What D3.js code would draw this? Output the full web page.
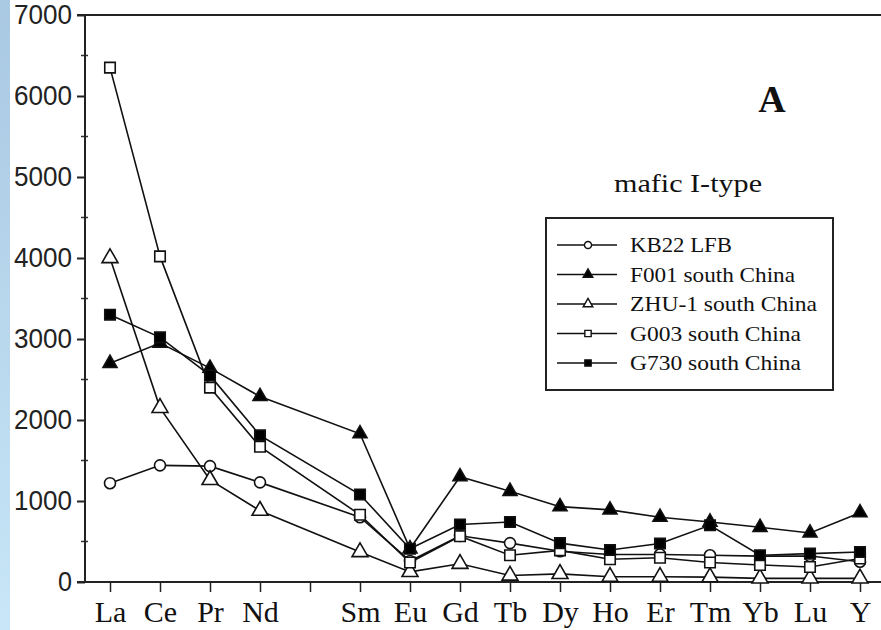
<!DOCTYPE html>
<html>
<head>
<meta charset="utf-8">
<script src="https://cdn.jsdelivr.net/npm/d3@7"></script>
<style>
  body { margin: 0; background: #fff; }
  svg { display: block; }
</style>
</head>
<body>
<script>
// element order on the x axis (Pm has a tick but no label / data)
var elements = ["La", "Ce", "Pr", "Nd", "Pm", "Sm", "Eu", "Gd", "Tb", "Dy", "Ho", "Er", "Tm", "Yb", "Lu", "Y"]
var elementLabels = ["La", "Ce", "Pr", "Nd", "", "Sm", "Eu", "Gd", "Tb", "Dy", "Ho", "Er", "Tm", "Yb", "Lu", "Y"]

var seriesNames = ["KB22 LFB", "F001 south China", "ZHU-1 south China", "G003 south China", "G730 south China"]

var kb22  = [1220, 1440, 1430, 1230, null, 800, 260, 570, 480, 380, 340, 340, 330, 320, 320, 250]
var f001  = [2700, 2950, 2640, 2290, null, 1830, 410, 1300, 1120, 930, 890, 800, 740, 675, 605, 855]
var zhu1  = [4000, 2150, 1260, 880, null, 370, 125, 225, 80, 100, 65, 65, 60, 45, 45, 45]
var g003  = [6350, 4020, 2400, 1670, null, 830, 240, 565, 330, 390, 280, 300, 240, 210, 185, 290]
var g730  = [3300, 3020, 2550, 1810, null, 1080, 410, 710, 740, 480, 395, 475, 700, 330, 350, 370]

var yTicks = [0, 1000, 2000, 3000, 4000, 5000, 6000, 7000]
var yMinorTicks = [500, 1500, 2500, 3500, 4500, 5500, 6500]

var w = 881
var h = 630

var svg = d3.select("body")
            .append("svg")
            .attr("width", w)
            .attr("height", h)

// light blue strip on the left edge
var grad = svg.append("defs").append("linearGradient")
    .attr("id", "strip").attr("x1", 0).attr("y1", 0).attr("x2", 0).attr("y2", 1)
grad.append("stop").attr("offset", "0%").attr("stop-color", "#a9c8e2")
grad.append("stop").attr("offset", "100%").attr("stop-color", "#c8e6f7")
svg.append("rect").attr("x", 0).attr("y", 0).attr("width", 10).attr("height", h)
   .attr("fill", "url(#strip)")

var xScale = d3.scaleLinear().domain([-0.5, 15.5]).range([85, 885])
var yScale = d3.scaleLinear().domain([0, 7000]).range([582, 15])

// y axis
var yAxis = d3.axisLeft(yScale).tickValues(yTicks).tickFormat(d3.format("d"))
    .tickSize(8).tickSizeOuter(0).tickPadding(5)
var gy = svg.append("g").attr("transform", "translate(85,0)").call(yAxis)
gy.select(".domain").remove()
gy.selectAll("line").attr("stroke", "#222").attr("stroke-width", 2)
gy.selectAll("text")
  .style("font-family", "'Liberation Sans', Arial, sans-serif")
  .style("font-size", "28px")
  .attr("fill", "#222")
  .attr("textLength", 58)
  .attr("lengthAdjust", "spacingAndGlyphs")
gy.selectAll("text").filter(d => d === 0).attr("textLength", 14)

// minor ticks, crossing the axis
svg.append("g").selectAll("line")
  .data(yMinorTicks)
  .enter()
  .append("line")
  .attr("x1", 81).attr("x2", 88)
  .attr("y1", d => yScale(d)).attr("y2", d => yScale(d))
  .attr("stroke", "#333").attr("stroke-width", 1.5)

// x axis
var xAxis = d3.axisBottom(xScale)
    .tickValues(d3.range(elements.length))
    .tickFormat(i => elementLabels[i])
    .tickSize(10).tickSizeOuter(0).tickPadding(9)
var gx = svg.append("g").attr("transform", "translate(0,582)").call(xAxis)
gx.select(".domain").remove()
gx.selectAll("line").attr("stroke", "#222").attr("stroke-width", 1.5)
gx.selectAll("text")
  .style("font-family", "'Liberation Serif', 'Times New Roman', serif")
  .style("font-size", "30px")
  .attr("fill", "#111")

// frame lines
svg.append("line").attr("x1", 85).attr("x2", 85).attr("y1", yScale(7000)).attr("y2", yScale(0))
   .attr("stroke", "#222").attr("stroke-width", 2)
svg.append("line").attr("x1", 77).attr("x2", w).attr("y1", yScale(0)).attr("y2", yScale(0))
   .attr("stroke", "#222").attr("stroke-width", 2)
svg.append("line").attr("x1", 77).attr("x2", w).attr("y1", yScale(7000)).attr("y2", yScale(7000))
   .attr("stroke", "#222").attr("stroke-width", 2)

// series definitions
var series = [
  { name: seriesNames[0], values: kb22, symbol: d3.symbolCircle, size: 95, fill: "#fff" },
  { name: seriesNames[1], values: f001, symbol: d3.symbolTriangle, size: 85, fill: "#000" },
  { name: seriesNames[2], values: zhu1, symbol: d3.symbolTriangle, size: 110, fill: "#fff" },
  { name: seriesNames[3], values: g003, symbol: d3.symbolSquare, size: 110, fill: "#fff" },
  { name: seriesNames[4], values: g730, symbol: d3.symbolSquare, size: 110, fill: "#000" }
]

var line = d3.line()
    .defined(d => d.v != null)
    .x(d => xScale(d.i))
    .y(d => yScale(d.v))

series.forEach(function (s) {
  s.points = s.values.map((v, i) => ({ i: i, v: v }))
})

// lines first
svg.append("g").selectAll("path")
  .data(series)
  .enter()
  .append("path")
  .attr("d", s => line(s.points.filter(p => p.v != null)))
  .attr("fill", "none")
  .attr("stroke", "#111")
  .attr("stroke-width", 1.6)

// markers on top
series.forEach(function (s) {
  svg.append("g").selectAll("path")
    .data(s.points.filter(p => p.v != null))
    .enter()
    .append("path")
    .attr("d", d3.symbol().type(s.symbol).size(s.size))
    .attr("transform", d => "translate(" + xScale(d.i) + "," + yScale(d.v) + ")")
    .attr("fill", s.fill)
    .attr("stroke", "#111")
    .attr("stroke-width", 1.6)
})

// panel letter and group label
svg.append("text")
  .attr("x", 772).attr("y", 112)
  .attr("text-anchor", "middle")
  .style("font-family", "'Liberation Serif', 'Times New Roman', serif")
  .style("font-size", "38px")
  .style("font-weight", "bold")
  .attr("fill", "#111")
  .text("A")

svg.append("text")
  .attr("x", 614).attr("y", 192)
  .style("font-family", "'Liberation Serif', 'Times New Roman', serif")
  .style("font-size", "26px")
  .attr("fill", "#111")
  .attr("textLength", 148)
  .attr("lengthAdjust", "spacingAndGlyphs")
  .text("mafic I-type")

// legend
var legend = svg.append("g")
legend.append("rect")
  .attr("x", 546).attr("y", 218).attr("width", 287).attr("height", 172)
  .attr("fill", "#fff").attr("stroke", "#222").attr("stroke-width", 2)

var rowY = [245, 274.5, 304, 333.5, 363]
var textLen = [102, 165, 187, 171, 171]
series.forEach(function (s, k) {
  var row = legend.append("g").attr("transform", "translate(0," + rowY[k] + ")")
  row.append("line").attr("x1", 557).attr("x2", 617).attr("y1", 0).attr("y2", 0)
     .attr("stroke", "#111").attr("stroke-width", 1.6)
  row.append("path")
     .attr("d", d3.symbol().type(s.symbol).size(40))
     .attr("transform", "translate(588,0)")
     .attr("fill", s.fill).attr("stroke", "#111").attr("stroke-width", 1.4)
  row.append("text")
     .attr("x", 630).attr("y", 7)
     .style("font-family", "'Liberation Serif', 'Times New Roman', serif")
     .style("font-size", "22px")
     .attr("fill", "#111")
     .attr("textLength", textLen[k])
     .attr("lengthAdjust", "spacingAndGlyphs")
     .text(s.name)
})
</script>
</body>
</html>
